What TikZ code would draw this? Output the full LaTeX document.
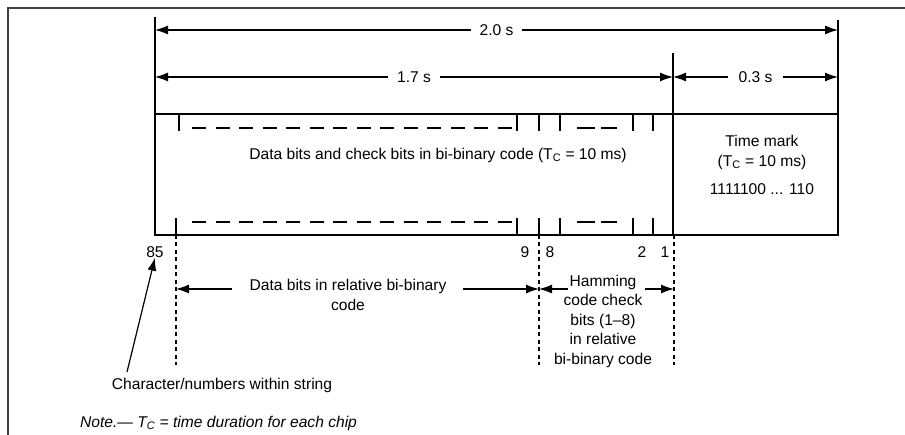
\documentclass[tikz,border=0pt]{standalone}
\usepackage{fontspec}
\setmainfont{Liberation Sans}
\usetikzlibrary{arrows.meta}
\begin{document}
\begin{tikzpicture}[x=1pt,y=-1pt,
  >={Latex[length=13pt,width=9pt]},
  txt/.style={font=\fontsize{15.6}{19.5}\selectfont, inner sep=0pt, align=center},
  ln/.style={line width=1.6pt},
  tick/.style={line width=1.6pt},
  dashrow/.style={line width=1.5pt, dash pattern=on 14pt off 9.5pt},
  vdot/.style={line width=1.5pt, dash pattern=on 4pt off 3.5pt},
  dim/.style={line width=1.2pt, <->},
  arr/.style={line width=1.2pt, ->},
  frame/.style={line width=1.6pt, draw=black!75}
]
\useasboundingbox (0,0) rectangle (905,435);
% outer frame (top and left)
\coordinate (fTL) at (8,8);
\coordinate (fTR) at (905,8);
\coordinate (fBL) at (8,435);
\draw[frame] (fTR) -- (fTL) -- (fBL);

% main coordinates
\coordinate (Ltop) at (155,17);
\coordinate (Rtop) at (838,20);
\coordinate (Mtop) at (673,53);
\coordinate (BL) at (155,235);
\coordinate (BR) at (838,235);
\coordinate (BM) at (673,235);
\coordinate (TL) at (155,114);
\coordinate (TR) at (838,114);

% box
\draw[ln] (Ltop) -- (BL) -- (BR) -- (Rtop);
\draw[ln] (TL) -- (TR);
\draw[ln] (Mtop) -- (BM);

% dimension lines
\coordinate (d20a) at (155,30);
\coordinate (d20b) at (838,30);
\coordinate (d17a) at (155,77);
\coordinate (d17b) at (673,77);
\coordinate (d03b) at (838,77);
\draw[dim] (d20a) -- (d20b) node[midway, txt, fill=white, inner xsep=9pt, inner ysep=2pt] (l20) {2.0 s};
\draw[dim] (d17a) -- (d17b) node[midway, txt, fill=white, inner xsep=9pt, inner ysep=2pt] (l17) {1.7 s};
\draw[dim] (d17b) -- (d03b) node[midway, txt, fill=white, inner xsep=11pt, inner ysep=2pt] (l03) {0.3 s};

% ticks top and bottom
\foreach \x [count=\i] in {179,517,539,560,633,653} {
  \coordinate (tt\i) at (\x,114);
  \coordinate (tb\i) at (\x,131);
  \draw[tick] (tt\i) -- (tb\i);
}
\foreach \x [count=\i] in {176,517,539,560,633,653} {
  \coordinate (bt\i) at (\x,218);
  \coordinate (bb\i) at (\x,235);
  \draw[tick] (bt\i) -- (bb\i);
}
% dashed rows
\coordinate (dra) at (192,128); \coordinate (drb) at (513,128);
\coordinate (dsa) at (192,222); \coordinate (dsb) at (513,222);
\draw[dashrow] (dra) -- (drb);
\draw[dashrow] (dsa) -- (dsb);
\coordinate (h1a) at (577,128); \coordinate (h1b) at (595,128);
\coordinate (h2a) at (601,128); \coordinate (h2b) at (617,128);
\coordinate (h3a) at (577,222); \coordinate (h3b) at (595,222);
\coordinate (h4a) at (601,222); \coordinate (h4b) at (617,222);
\draw[line width=1.5pt] (h1a) -- (h1b) (h2a) -- (h2b) (h3a) -- (h3b) (h4a) -- (h4b);

% box texts
\node[txt] (main) at (438,155) {Data bits and check bits in bi-binary code (T\textsubscript{C} = 10 ms)};
\node[txt] (tm1) at (762,141) {Time mark};
\node[txt] (tm2) at (762,162) {(T\textsubscript{C} = 10 ms)};
\node[txt] (tm3) at (762,189) {1111100 ... 110};

% numbers
\node[txt] (n85) at (155,252) {85};
\node[txt] (n9) at (525,252) {9};
\node[txt] (n8) at (550,252) {8};
\node[txt] (n2) at (642,252) {2};
\node[txt] (n1) at (665,252) {1};

% dotted verticals
\coordinate (v1a) at (176,235); \coordinate (v1b) at (176,365);
\coordinate (v2a) at (539,235); \coordinate (v2b) at (539,365);
\coordinate (v3a) at (674,235); \coordinate (v3b) at (674,365);
\draw[vdot] (v1a) -- (v1b);
\draw[vdot] (v2a) -- (v2b);
\draw[vdot] (v3a) -- (v3b);

% data bits label and arrows
\node[txt] (dbits) at (348,295) {Data bits in relative bi-binary\\code};
\coordinate (da1) at (232,289); \coordinate (da1e) at (176,289);
\coordinate (da2) at (463,289); \coordinate (da2e) at (539,289);
\draw[arr] (da1) -- (da1e);
\draw[arr] (da2) -- (da2e);

% hamming label and arrows
\node[txt] (ham) at (603,321) {Hamming\\code check\\bits (1–8)\\in relative\\bi-binary code};
\coordinate (ha1) at (568,289); \coordinate (ha1e) at (539,289);
\coordinate (ha2) at (645,289); \coordinate (ha2e) at (674,289);
\draw[arr] (ha1) -- (ha1e);
\draw[arr] (ha2) -- (ha2e);

% character label
\node[txt] (chr) at (222,385) {Character/numbers within string};
\coordinate (ca) at (127,372);
\draw[arr] (ca) -- (n85.south);

% note
\node[txt, anchor=west, font=\fontsize{15.6}{19.5}\selectfont\itshape] (note) at (80,423) {Note.— T\textsubscript{C} = time duration for each chip};
\end{tikzpicture}
\end{document}
